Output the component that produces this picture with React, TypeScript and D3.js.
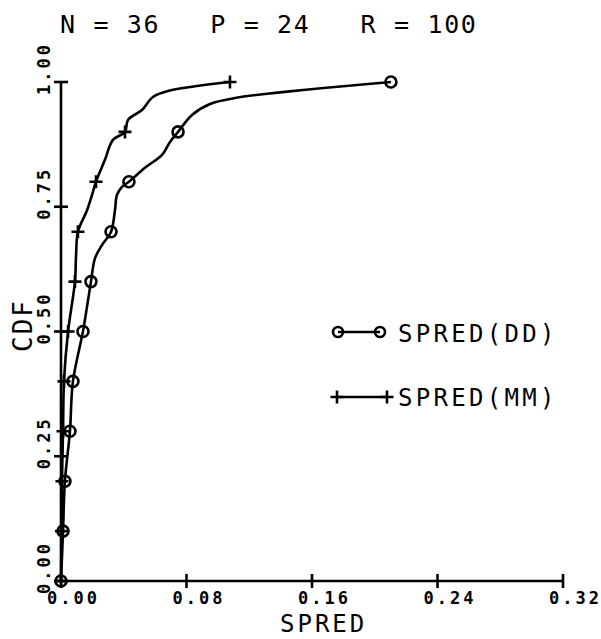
import React from 'react';
import * as d3 from 'd3';

const ddSpred = [0, 0.0013, 0.0025, 0.0057, 0.0076, 0.014, 0.0166, 0.0191, 0.0217, 0.0261, 0.0319, 0.0344, 0.0357, 0.0389, 0.0433, 0.0535, 0.0644, 0.0695, 0.0746, 0.0835, 0.095, 0.1109, 0.2103];
const ddCdf = [0, 0.1, 0.2, 0.3, 0.4, 0.5, 0.55, 0.6, 0.647, 0.673, 0.7, 0.743, 0.774, 0.79, 0.8, 0.828, 0.854, 0.88, 0.9, 0.934, 0.956, 0.968, 1.0];

const mmSpred = [0, 0.0003, 0.0006, 0.0013, 0.0019, 0.0045, 0.0089, 0.0096, 0.0108, 0.0166, 0.0198, 0.0223, 0.028, 0.0331, 0.0408, 0.0427, 0.0516, 0.0586, 0.0682, 0.1077];
const mmCdf = [0, 0.1, 0.2, 0.3, 0.4, 0.5, 0.6, 0.653, 0.7, 0.743, 0.774, 0.8, 0.844, 0.884, 0.9, 0.924, 0.944, 0.97, 0.982, 1.0];

// marker levels
const markerCdf = [0, 0.1, 0.2, 0.3, 0.4, 0.5, 0.6, 0.7, 0.8, 0.9, 1.0];

const xTicks = [0, 0.08, 0.16, 0.24, 0.32];
const yTicks = [0, 0.25, 0.5, 0.75, 1.0];

const title = 'N = 36   P = 24   R = 100';
const seriesNames = ['SPRED(DD)', 'SPRED(MM)'];

const FONT = '"DejaVu Sans Mono", monospace';
const SW = 2.6;

const App = () => {
  const x = d3.scaleLinear().domain([0, 0.32]).range([61, 563]);
  const y = d3.scaleLinear().domain([0, 1]).range([581, 82]);

  const dd = ddSpred.map((s, i) => [s, ddCdf[i]] as [number, number]);
  const mm = mmSpred.map((s, i) => [s, mmCdf[i]] as [number, number]);

  const line = d3
    .line<[number, number]>()
    .x((d) => x(d[0]))
    .y((d) => y(d[1]))
    .curve(d3.curveCatmullRom.alpha(0.5));

  const ddMarks = dd.filter((d) => markerCdf.some((c) => Math.abs(c - d[1]) < 1e-6));
  const mmMarks = mm.filter((d) => markerCdf.some((c) => Math.abs(c - d[1]) < 1e-6));

  const plus = (cx: number, cy: number, r: number, key: string) => (
    <path key={key} d={`M${cx - r},${cy}H${cx + r}M${cx},${cy - r}V${cy + r}`} stroke="#000" strokeWidth={SW} />
  );
  const circ = (cx: number, cy: number, r: number, key: string) => (
    <circle key={key} cx={cx} cy={cy} r={r} fill="none" stroke="#000" strokeWidth={SW} />
  );

  return (
    <svg width={601} height={639} style={{ position: 'absolute', left: 0, top: 0, background: '#fff' }}>
      <rect width={601} height={639} fill="#fff" />
      <text x={60} y={33} fontFamily={FONT} fontSize={25} letterSpacing={1.65} style={{ whiteSpace: 'pre' }}>
        {title}
      </text>

      {/* axes */}
      <line x1={x(0)} x2={x(0.32)} y1={y(0)} y2={y(0)} stroke="#000" strokeWidth={SW} />
      <line x1={x(0)} x2={x(0)} y1={y(0)} y2={y(1)} stroke="#000" strokeWidth={SW} />
      {xTicks.map((t) => (
        <g key={'x' + t}>
          <line x1={x(t)} x2={x(t)} y1={y(0) - 7} y2={y(0) + 7} stroke="#000" strokeWidth={SW} />
          <text x={x(t) - 14} y={604} fontFamily={FONT} fontSize={17} letterSpacing={3} fontWeight="bold">
            {t.toFixed(2)}
          </text>
        </g>
      ))}
      {yTicks.map((t) => (
        <g key={'y' + t}>
          <line x1={x(0) - 7} x2={x(0) + 7} y1={y(t)} y2={y(t)} stroke="#000" strokeWidth={SW} />
          <text
            transform={`translate(50,${y(t) + 13}) rotate(-90)`}
            fontFamily={FONT}
            fontSize={17}
            letterSpacing={3}
            fontWeight="bold"
          >
            {t.toFixed(2)}
          </text>
        </g>
      ))}
      <text x={280} y={632} fontFamily={FONT} fontSize={24} letterSpacing={3}>
        SPRED
      </text>
      <text transform="translate(32,352) rotate(-90)" fontFamily={FONT} fontSize={26} letterSpacing={2}>
        CDF
      </text>

      {/* curves */}
      <path d={line(dd) ?? ''} fill="none" stroke="#000" strokeWidth={SW} />
      <path d={line(mm) ?? ''} fill="none" stroke="#000" strokeWidth={SW} />
      {ddMarks.map((d, i) => circ(x(d[0]), y(d[1]), 5.5, 'dc' + i))}
      {mmMarks.map((d, i) => plus(x(d[0]), y(d[1]), 6.5, 'mp' + i))}

      {/* legend */}
      <line x1={338} x2={380} y1={332} y2={332} stroke="#000" strokeWidth={SW} />
      {circ(338, 332, 5, 'l1')}
      {circ(380, 332, 5, 'l2')}
      <text x={398} y={342} fontFamily={FONT} fontSize={24} letterSpacing={3.3}>
        {seriesNames[0]}
      </text>
      <line x1={337} x2={387} y1={397} y2={397} stroke="#000" strokeWidth={SW} />
      {plus(337, 397, 6.5, 'l3')}
      {plus(387, 397, 6.5, 'l4')}
      <text x={398} y={406} fontFamily={FONT} fontSize={24} letterSpacing={3.3}>
        {seriesNames[1]}
      </text>
    </svg>
  );
};

export default App;
